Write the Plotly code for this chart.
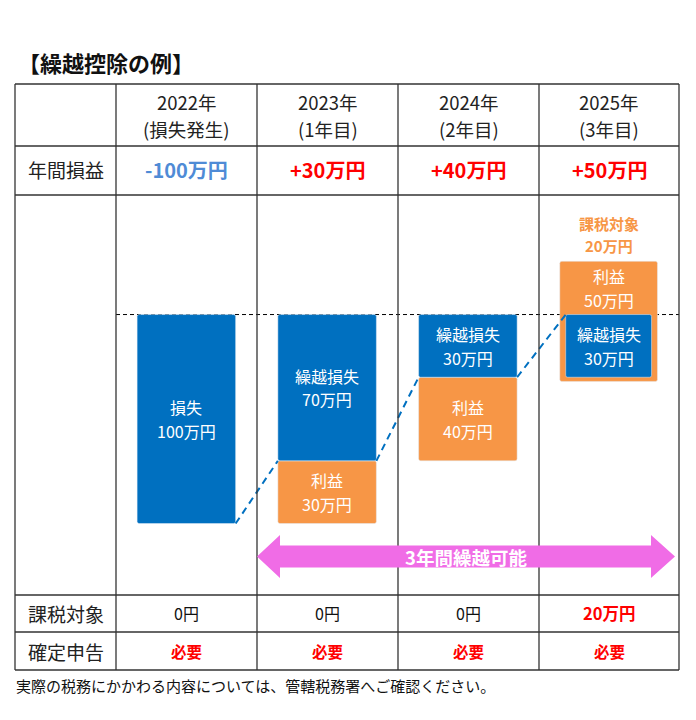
import plotly.graph_objects as go

# ---------------- data ----------------
years = ["2022年", "2023年", "2024年", "2025年"]
year_notes = ["(損失発生)", "(1年目)", "(2年目)", "(3年目)"]
annual_pl = [-100, 30, 40, 50]          # 年間損益 (万円)
loss = [100, 0, 0, 0]                   # 損失
carry_loss = [0, 70, 30, 30]            # 繰越損失
profit = [0, 30, 40, 50]                # 利益
remaining_loss = [100, 70, 30, 0]       # 残りの繰越損失
taxable = [0, 0, 0, 20]                 # 課税対象 (万円)
filing = ["必要", "必要", "必要", "必要"]  # 確定申告
row_labels = ["年間損益", "課税対象", "確定申告"]
title_text = "【繰越控除の例】"
note_text = "実際の税務にかかわる内容については、管轄税務署へご確認ください。"
arrow_text = "3年間繰越可能"

# ---------------- style ----------------
OFF = 8                      # default page margin of the html body
W, H = 696 - OFF, 720 - OFF
FONT = "Noto Sans CJK JP"
BLUE = "#0070C0"
ORANGE = "#F79646"
RED = "#FF0000"
NEG_BLUE = "#4F8BD6"
PINK = "#F06CE6"
LINE = "#333333"
col_x = [15, 116, 257, 398, 539, 679]
row_y = [84, 146, 195, 595, 632, 670]
BAR_W = 0.70
INNER_W = 0.61
OUTER_W = 0.694
PAD_TOP, PAD_BOT = 5.5, 2.0
BAR_FONT = 16
LINE_GAP = 11.7


def px(x):
    return (x - OFF) / W


def py(y):
    return 1 - (y - OFF) / H


idx = list(range(len(years)))
fig = go.Figure()

# loss bars
li = [i for i in idx if loss[i] > 0]
fig.add_trace(go.Bar(x=li, y=[loss[i] for i in li], base=[0] * len(li),
                     width=[BAR_W] * len(li), marker=dict(color=BLUE, cornerradius=2),
                     hoverinfo="skip"))

# profit bars
pi = [i for i in idx if profit[i] > 0]
p_base, p_len, p_w, p_mid = [], [], [], []
for i in pi:
    if taxable[i] > 0:
        top = carry_loss[i] - profit[i] - PAD_TOP
        bot = carry_loss[i] + PAD_BOT
        p_base.append(top)
        p_len.append(bot - top)
        p_w.append(OUTER_W)
        p_mid.append(top / 2)
    else:
        p_base.append(carry_loss[i])
        p_len.append(profit[i])
        p_w.append(BAR_W)
        p_mid.append(carry_loss[i] + profit[i] / 2)
fig.add_trace(go.Bar(x=pi, y=p_len, base=p_base, width=p_w,
                     marker=dict(color=ORANGE, cornerradius=2), hoverinfo="skip"))

# carried loss bars
ci = [i for i in idx if carry_loss[i] > 0]
fig.add_trace(go.Bar(x=ci, y=[carry_loss[i] for i in ci], base=[0] * len(ci),
                     width=[INNER_W if taxable[i] > 0 else BAR_W for i in ci],
                     marker=dict(color=BLUE, cornerradius=2), hoverinfo="skip"))

# dashed connectors
cx, cy = [], []
for i in idx[1:]:
    w_end = INNER_W if taxable[i] > 0 else BAR_W
    cx += [i - 1 + BAR_W / 2, i - w_end / 2, None]
    cy += [remaining_loss[i - 1], remaining_loss[i], None]
fig.add_trace(go.Scatter(x=cx, y=cy, mode="lines",
                         line=dict(color=BLUE, width=2, dash="7px,5px"),
                         hoverinfo="skip"))

ann = []


def two_lines(x, y, l1, l2, size, color, gap=LINE_GAP, bold=False, ref="data", shift=0):
    xr, yr = ("x", "y") if ref == "data" else ("paper", "paper")
    for txt, s in ((l1, gap), (l2, -gap)):
        t = f"<b>{txt}</b>" if bold else txt
        ann.append(dict(x=x, y=y, xref=xr, yref=yr, yshift=s + shift,
                        text=t, font=dict(color=color, size=size)))


# bar labels
for i in li:
    two_lines(i, loss[i] / 2, "損失", f"{loss[i]}万円", BAR_FONT, "white")
for i in ci:
    two_lines(i, carry_loss[i] / 2, "繰越損失", f"{carry_loss[i]}万円", BAR_FONT, "white")
for k, i in enumerate(pi):
    two_lines(i, p_mid[k], "利益", f"{profit[i]}万円", BAR_FONT, "white")
    if taxable[i] > 0:
        two_lines(i, p_base[k], "課税対象", f"{taxable[i]}万円", 15, ORANGE,
                  gap=10.9, bold=True, shift=27)

# title and note
ann.append(dict(x=px(16), y=py(62), xref="paper", yref="paper", xanchor="left",
                text=f"<b>{title_text}</b>", font=dict(size=22, color="#111")))
ann.append(dict(x=px(14), y=py(685), xref="paper", yref="paper", xanchor="left",
                text=note_text, font=dict(size=15, color="#111")))

# header and rows
for i in idx:
    cxp = (col_x[i + 1] + col_x[i + 2]) / 2
    two_lines(px(cxp), py(115.5), years[i], year_notes[i], 18.5, "#222", gap=13.5, ref="paper")
    v = annual_pl[i]
    ann.append(dict(x=px(cxp), y=py(170), xref="paper", yref="paper",
                    text=f"<b>{v:+d}万円</b>",
                    font=dict(size=20, color=NEG_BLUE if v < 0 else RED)))
    t = taxable[i]
    if t > 0:
        ann.append(dict(x=px(cxp), y=py(613), xref="paper", yref="paper",
                        text=f"<b>{t}万円</b>", font=dict(size=16.5, color=RED)))
    else:
        ann.append(dict(x=px(cxp), y=py(613), xref="paper", yref="paper",
                        text="0円", font=dict(size=16, color="#111")))
    ann.append(dict(x=px(cxp), y=py(651), xref="paper", yref="paper",
                    text=f"<b>{filing[i]}</b>", font=dict(size=15.5, color=RED)))

label_cx = (col_x[0] + col_x[1]) / 2
for lab, yy in zip(row_labels, [170, 613, 651]):
    ann.append(dict(x=px(label_cx), y=py(yy), xref="paper", yref="paper",
                    text=lab, font=dict(size=19, color="#222")))

# arrow label
ann.append(dict(x=px(466), y=py(556.5), xref="paper", yref="paper",
                text=f"<b>{arrow_text}</b>", font=dict(size=18.5, color="white")))

for a in ann:
    a.setdefault("showarrow", False)
    a.setdefault("xanchor", "center")
    a.setdefault("yanchor", "middle")

shapes = []
# baseline
shapes.append(dict(type="line", xref="x domain", yref="y", x0=0, x1=1, y0=0, y1=0,
                   line=dict(color="black", width=1, dash="4px,3px"), layer="below"))
# table lines
for yy in row_y:
    shapes.append(dict(type="line", xref="paper", yref="paper", x0=px(col_x[0]), x1=px(col_x[-1]),
                       y0=py(yy), y1=py(yy), line=dict(color=LINE, width=1.3)))
for xx in col_x:
    shapes.append(dict(type="line", xref="paper", yref="paper", x0=px(xx), x1=px(xx),
                       y0=py(row_y[0]), y1=py(row_y[-1]), line=dict(color=LINE, width=1.3)))
# double arrow
pts = [(257, 556.5), (280, 535), (280, 545.5), (651, 545.5), (651, 535), (675, 556.5),
       (651, 578), (651, 567.5), (280, 567.5), (280, 578)]
path = "M " + " L ".join(f"{px(a):.5f},{py(b):.5f}" for a, b in pts) + " Z"
shapes.append(dict(type="path", xref="paper", yref="paper", path=path,
                   fillcolor=PINK, line=dict(width=0)))

fig.update_layout(
    width=W, height=H, margin=dict(l=0, r=0, t=0, b=0),
    paper_bgcolor="white", plot_bgcolor="rgba(0,0,0,0)",
    barmode="overlay", showlegend=False,
    font=dict(family=FONT),
    xaxis=dict(range=[-0.5, 3.5], domain=[px(col_x[1]), px(col_x[-1])], visible=False),
    yaxis=dict(range=[134.2, -57.2], domain=[py(row_y[3]), py(row_y[2])], visible=False),
    annotations=ann, shapes=shapes,
)
fig.write_html("out.html")
